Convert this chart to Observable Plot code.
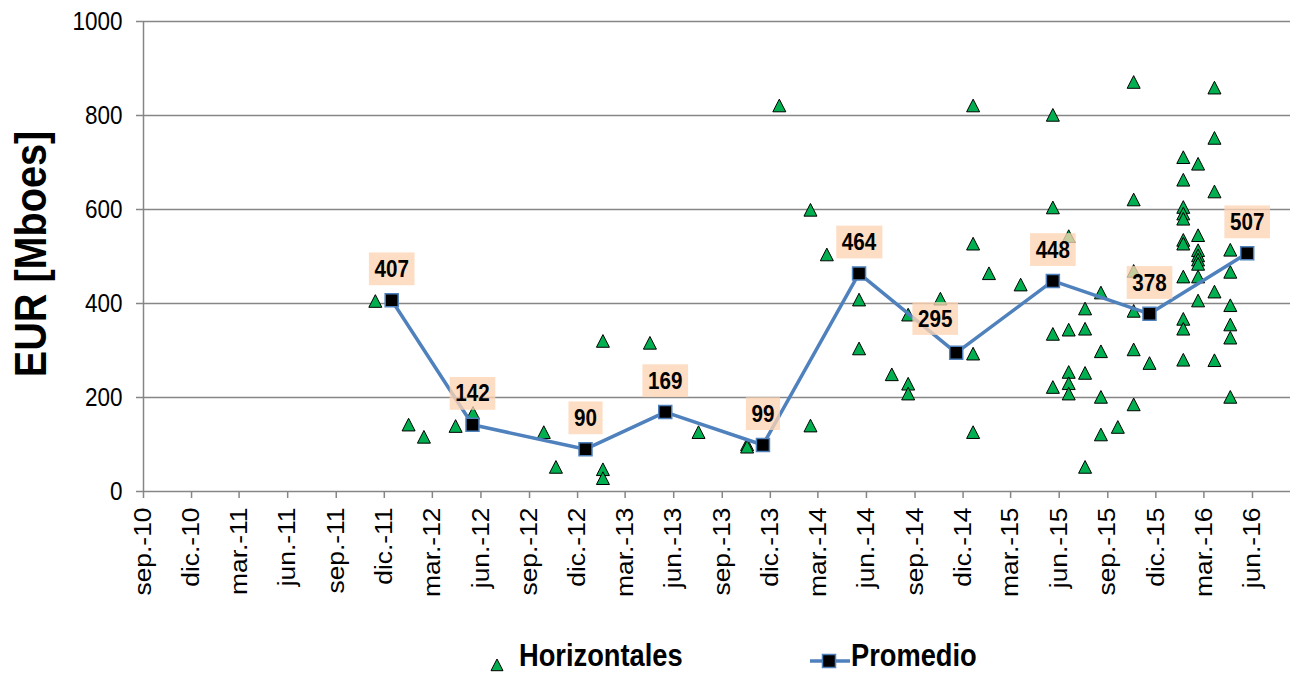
<!DOCTYPE html>
<html><head><meta charset="utf-8">
<script src="https://cdn.jsdelivr.net/npm/d3@7"></script>
<script src="https://cdn.jsdelivr.net/npm/@observablehq/plot@0.6"></script>
<style>
body{margin:0;background:#fff;}
#wrap{position:relative;width:1291px;height:680px;overflow:hidden;background:#fff;}
#chart svg{display:block;}
#legend{position:absolute;left:0;top:630px;}
</style></head><body>
<div id="wrap"><div id="chart"></div><svg id="legend" width="1291" height="50"></svg></div>
<script>
// ---- data ----
const seriesNames = ["Horizontales", "Promedio"];
const horizDates = [
  "2011-11-14","2012-01-16","2012-02-14","2012-04-14","2012-05-17",
  "2012-09-28","2012-10-21","2013-01-18","2013-01-18","2013-01-18",
  "2013-04-17","2013-07-18","2013-10-18","2013-10-18","2013-12-18",
  "2014-02-15","2014-02-15","2014-03-18","2014-05-18","2014-05-18",
  "2014-07-19","2014-08-19","2014-08-19","2014-08-19","2014-10-19",
  "2014-12-20","2014-12-20","2014-12-20","2014-12-20","2015-01-19",
  "2015-03-20","2015-05-20","2015-05-20","2015-05-20","2015-05-20",
  "2015-06-19","2015-06-19","2015-06-19","2015-06-19","2015-06-19",
  "2015-07-20","2015-07-20","2015-07-20","2015-07-20",
  "2015-08-19","2015-08-19","2015-08-19","2015-08-19","2015-09-20",
  "2015-10-20","2015-10-20","2015-10-20","2015-10-20","2015-10-20","2015-10-20",
  "2015-11-19",
  "2016-01-22","2016-01-22","2016-01-22","2016-01-22","2016-01-22","2016-01-22",
  "2016-01-22","2016-01-22","2016-01-22","2016-01-22","2016-01-22",
  "2016-02-19","2016-02-19","2016-02-19","2016-02-19","2016-02-19","2016-02-19",
  "2016-02-19","2016-02-19",
  "2016-03-21","2016-03-21","2016-03-21","2016-03-21","2016-03-21",
  "2016-04-20","2016-04-20","2016-04-20","2016-04-20","2016-04-20","2016-04-20"
];
const horizValues = [
  405,142,116,139,167,
  126,52,320,47,28,
  316,126,100,95,821,
  599,140,504,408,304,
  249,376,229,208,410,
  821,527,293,126,464,
  440,801,604,335,222,
  543,344,254,230,208,
  389,346,252,52,
  423,298,201,121,137,
  871,621,469,384,302,185,
  273,
  711,663,605,591,580,535,
  527,457,367,346,280,
  697,545,513,502,493,484,
  457,406,
  859,752,638,425,279,
  514,467,396,355,327,201
];
const promDates = ["2011-12-15","2012-05-16","2012-12-16","2013-05-16","2013-11-17",
                   "2014-05-18","2014-11-18","2015-05-20","2015-11-19","2016-05-22"];
const promValues = [407,142,90,169,99,464,295,448,378,507];
const tickDates = ["2010-09-01","2010-12-01","2011-03-01","2011-06-01","2011-09-01","2011-12-01",
  "2012-03-01","2012-06-01","2012-09-01","2012-12-01","2013-03-01","2013-06-01",
  "2013-09-01","2013-12-01","2014-03-01","2014-06-01","2014-09-01","2014-12-01",
  "2015-03-01","2015-06-01","2015-09-01","2015-12-01","2016-03-01","2016-06-01"];
const tickLabels = ["sep.-10","dic.-10","mar.-11","jun.-11","sep.-11","dic.-11",
  "mar.-12","jun.-12","sep.-12","dic.-12","mar.-13","jun.-13",
  "sep.-13","dic.-13","mar.-14","jun.-14","sep.-14","dic.-14",
  "mar.-15","jun.-15","sep.-15","dic.-15","mar.-16","jun.-16"];
const yTicks = [0,200,400,600,800,1000];
const yTitle = "EUR [Mboes]";

// ---- tables ----
const horiz = horizDates.map((d,i)=>({date:new Date(d), value:horizValues[i]}));
const prom = promDates.map((d,i)=>({date:new Date(d), value:promValues[i]}));
const tickD = tickDates.map(d=>new Date(d));
const tickMap = new Map(tickD.map((d,i)=>[+d, tickLabels[i]]));

// ---- styles ----
const FONT = "'Liberation Sans', Arial, Helvetica, sans-serif";
const GRID = "#868686", GREEN = "#00B050", BLUE = "#4F81BD", PEACH = "#FCD5B4";
const triSym = {draw(ctx, size){ const r=Math.sqrt(size/Math.PI); ctx.moveTo(0,-r); ctx.lineTo(r,r*0.95); ctx.lineTo(-r,r*0.95); ctx.closePath(); }};
const sqSym = {draw(ctx, size){ const r=Math.sqrt(size/Math.PI); ctx.rect(-r,-r,2*r,2*r); }};
const xDomain = [new Date("2010-09-01"), new Date("2016-08-12")];

const plot = Plot.plot({
  width: 1291, height: 630,
  marginLeft: 143, marginRight: 1, marginTop: 21, marginBottom: 139,
  style: {fontFamily: FONT, background: "white", overflow: "visible", color: "black"},
  x: {type: "utc", domain: xDomain},
  y: {domain: [0, 1000]},
  marks: [
    Plot.gridY(yTicks.filter(v => v > 0), {stroke: GRID, strokeOpacity: 1, strokeWidth: 1.5}),
    Plot.ruleY([0], {stroke: GRID, strokeWidth: 1.5}),
    Plot.ruleX([xDomain[0]], {y1: 0, y2: 1000, stroke: GRID, strokeWidth: 1.5}),
    Plot.axisY({ticks: yTicks, tickFormat: d => String(d), tickSize: 7, tickPadding: 14, stroke: GRID, strokeWidth: 1.5,
                fill: "black", fontSize: 25.6, label: null}),
    Plot.axisX({ticks: tickD, tickFormat: d => tickMap.get(+d), tickRotate: -90, tickSize: 7, tickPadding: 9,
                stroke: GRID, strokeWidth: 1.5, fill: "black", fontSize: 24, label: null}),
    Plot.dot(horiz, {x: "date", y: "value", symbol: triSym, r: 6.5, fill: GREEN, stroke: "black", strokeWidth: 1}),
    Plot.line(prom, {x: "date", y: "value", stroke: BLUE, strokeWidth: 3.5}),
    Plot.dot(prom, {x: "date", y: "value", symbol: sqSym, r: 6.5, fill: "black", stroke: BLUE, strokeWidth: 1.5}),
    Plot.text(prom.filter(d => d.value !== 295), {x: "date", y: "value", text: d => String(d.value), dy: -31,
              fontWeight: "bold", fontSize: 24, fill: "black"}),
    Plot.text(prom.filter(d => d.value === 295), {x: "date", y: "value", text: d => String(d.value), dy: -34, dx: -21,
              fontWeight: "bold", fontSize: 24, fill: "black"})
  ]
});
document.getElementById("chart").appendChild(plot);

const S = d3.select(plot);
function squeeze(sel, s){ sel.each(function(){ const t=this.getAttribute("transform")||""; this.setAttribute("transform", t+" "+s); }); }
squeeze(S.selectAll('g[aria-label="y-axis tick label"] text'), "scale(0.88,1)");
squeeze(S.selectAll('g[aria-label="x-axis tick label"] text'), "scale(1.1,1)");
// label boxes
S.selectAll('g[aria-label="text"] text').each(function(){
  this.setAttribute("transform", (this.getAttribute("transform")||"")+" scale(0.86,1)");
  const b = this.getBBox();
  const px = 6.5, py = 3;
  const r = document.createElementNS("http://www.w3.org/2000/svg","rect");
  r.setAttribute("x", b.x-px); r.setAttribute("y", b.y-py);
  r.setAttribute("width", b.width+2*px); r.setAttribute("height", b.height+2*py);
  r.setAttribute("transform", this.getAttribute("transform"));
  r.setAttribute("fill", PEACH); r.setAttribute("fill-opacity", 0.78);
  this.parentNode.insertBefore(r, this);
});
// y title
const ys = plot.scale("y");
S.append("text").attr("transform", `translate(46,${(ys.apply(0)+ys.apply(1000))/2 - 2}) rotate(-90) scale(0.9,1)`)
  .attr("text-anchor","middle").attr("font-family",FONT).attr("font-weight","bold").attr("font-size",44)
  .attr("fill","black").text(yTitle);

// ---- legend ----
const L = d3.select("#legend").attr("font-family", FONT);
const g1 = L.append("g").attr("transform","translate(497,35)");
g1.append("path").attr("d", d3.symbol(triSym, 36*Math.PI)()).attr("fill",GREEN).attr("stroke","black").attr("stroke-width",1);
L.append("text").attr("transform","translate(519,36) scale(0.88,1)").attr("font-size",31).attr("font-weight","bold").attr("fill","black").text(seriesNames[0]);
const g2 = L.append("g").attr("transform","translate(829,31)");
g2.append("line").attr("x1",-19).attr("x2",21).attr("stroke",BLUE).attr("stroke-width",3.5);
g2.append("path").attr("d", d3.symbol(sqSym, 6.5*6.5*Math.PI)()).attr("fill","black").attr("stroke",BLUE).attr("stroke-width",1.5);
L.append("text").attr("transform","translate(851,36) scale(0.88,1)").attr("font-size",31).attr("font-weight","bold").attr("fill","black").text(seriesNames[1]);
</script>
</body></html>
